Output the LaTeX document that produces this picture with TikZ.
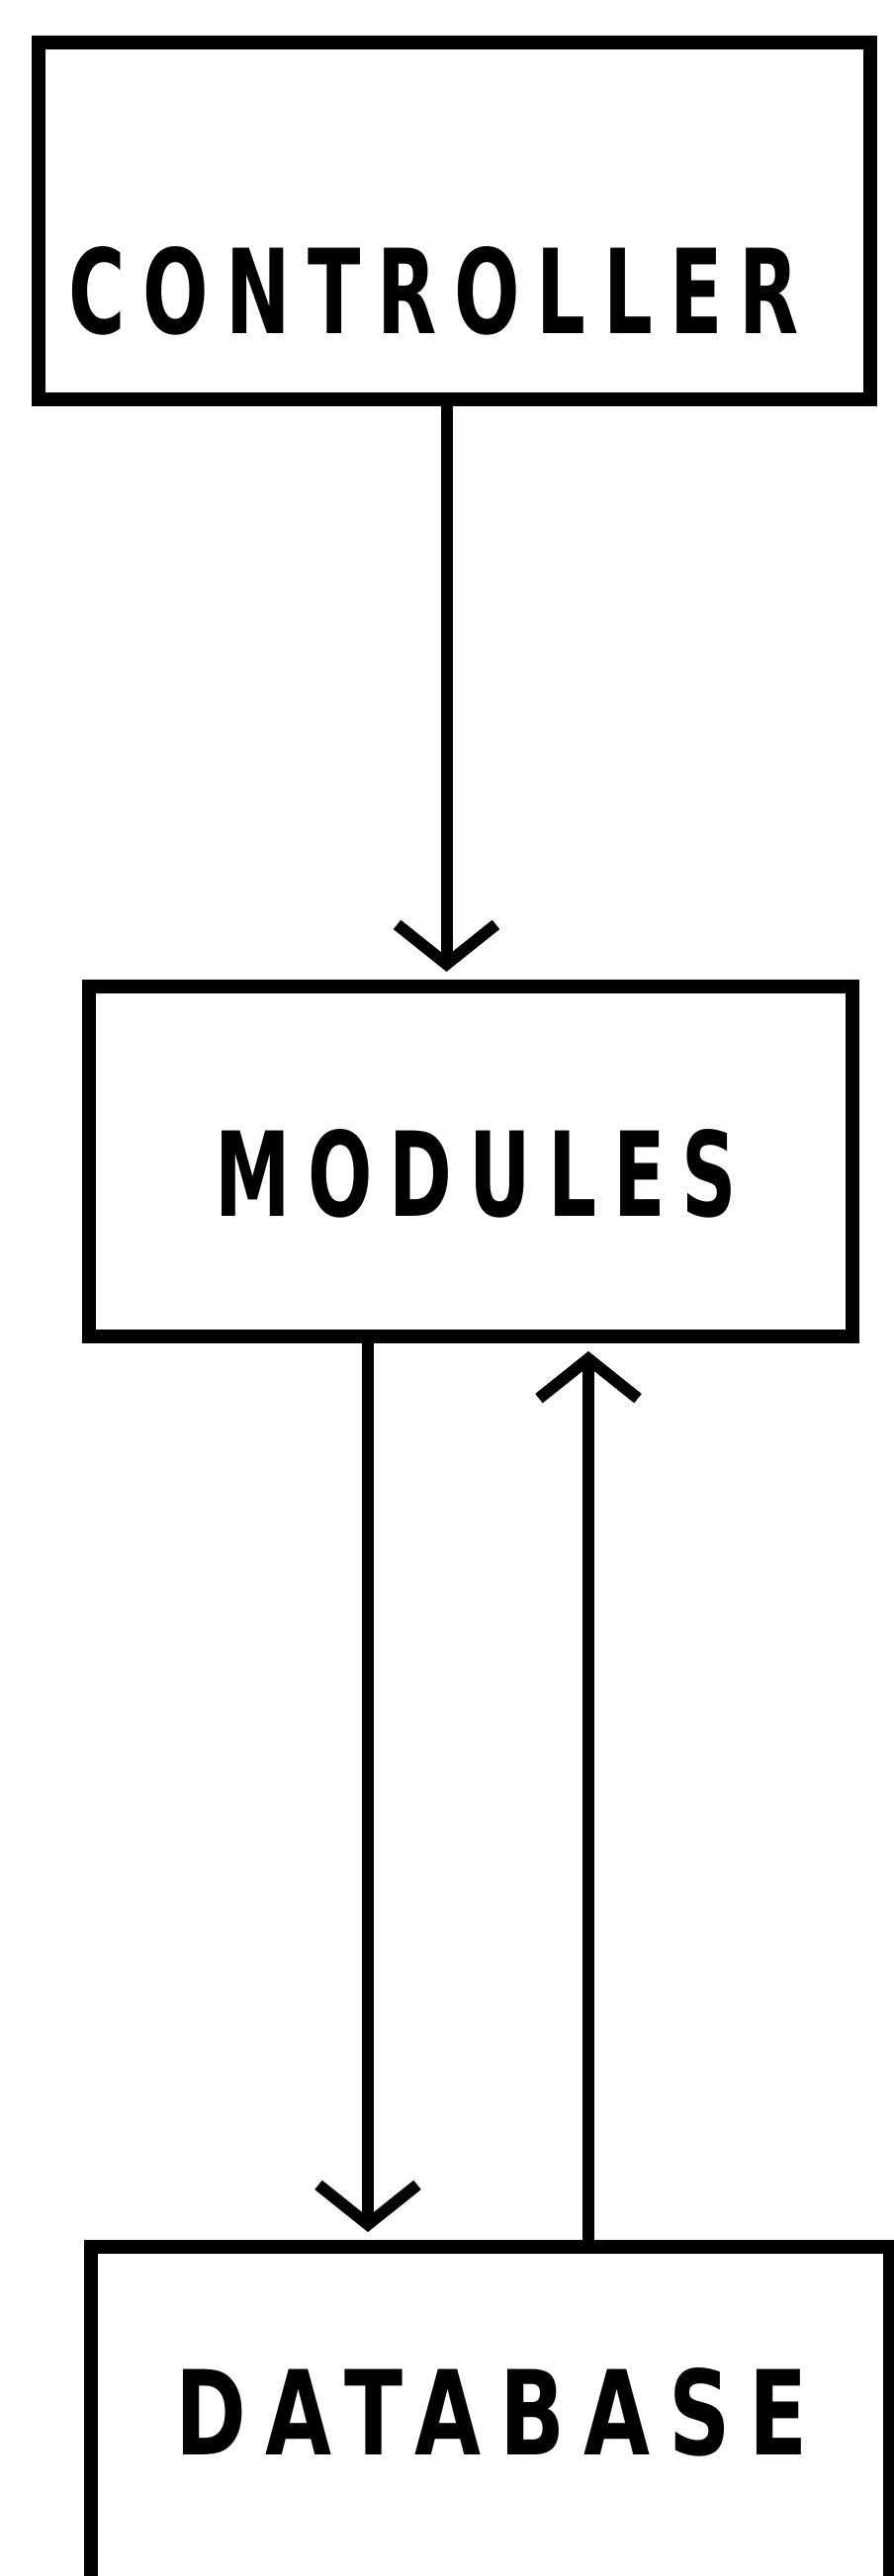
\documentclass[tikz,border=0pt]{standalone}
\usepackage{fontspec}
\setmainfont{DejaVu Sans}
\usepackage{graphicx}
\usetikzlibrary{arrows.meta, positioning}

\newcommand{\rotulo}[2]{\resizebox{#1}{44pt}{\addfontfeature{LetterSpace=22}\bfseries #2}}

\begin{document}
\begin{tikzpicture}[x=0.5pt, y=-0.5pt,
    caja/.style={draw, line width=7pt, inner sep=0pt},
    flecha/.style={line width=6pt, shorten >=4pt, -{Straight Barb[length=20pt, width=50pt]}}]
    \useasboundingbox (0,0) rectangle (904,2606);
    \clip (0,0) rectangle (904,2606);

    % Cajas
    \node[caja, minimum width=420.5pt, minimum height=180.5pt] (ctrl) at (459.5,223.5) {};
    \node[caja, minimum width=386pt, minimum height=177pt] (mod) at (476,1175) {};
    \node[caja, minimum width=404pt, minimum height=188.5pt] (db) at (496,2461.5) {};

    % Textos
    \node (ctrltxt) at (439,294) {\rotulo{369pt}{CONTROLLER}};
    \node (modtxt) at (481.5,1187) {\rotulo{263.5pt}{MODULES}};
    \node (dbtxt) at (497.5,2440) {\rotulo{319.5pt}{DATABASE}};

    % Flechas
    \draw[flecha] ([xshift=-4pt]ctrl.south) -- ([xshift=-4pt]ctrl.south |- mod.north);
    \draw[flecha] ([xshift=-52pt]mod.south) -- ([xshift=-52pt]mod.south |- db.north);
    \draw[flecha] ([xshift=59.5pt]mod.south |- db.north) -- ([xshift=59.5pt]mod.south);
\end{tikzpicture}
\end{document}
